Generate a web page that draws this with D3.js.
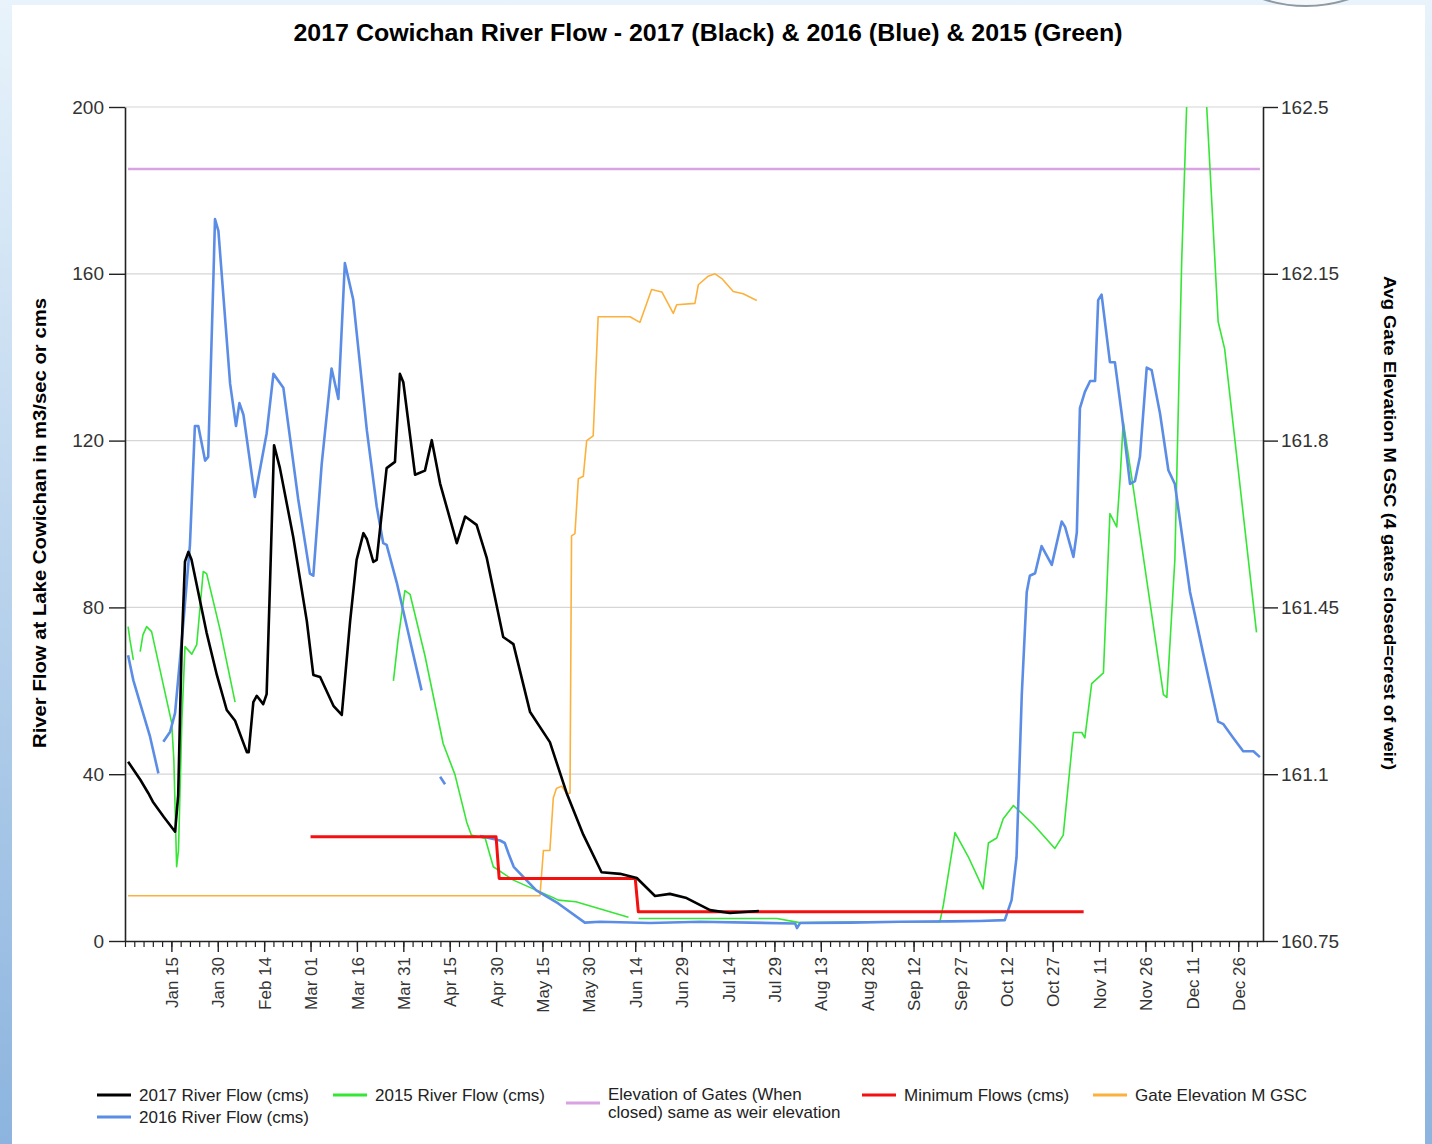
<!DOCTYPE html>
<html>
<head>
<meta charset="utf-8">
<script src="https://cdn.jsdelivr.net/npm/d3@7"></script>
<style>
  body { margin: 0; background: #fff; }
  svg { display: block; font-family: "Liberation Sans", Arial, sans-serif; }
</style>
</head>
<body>
<svg class="chart"></svg>
<script>
// [day of year, value]; null = gap in the record
const flow2017 = [[0,43],[4,38.6],[6.5,35.5],[8,33.4],[11.5,29.8],[15.2,26.2],[16.2,35],[17.3,70],[18.4,91],[19.5,93.3],
  [20.5,91.5],[25.4,73.9],[28.7,63.8],[31.9,55.4],[34.6,52.8],[38.4,45.3],[39,45.3],[40.5,57.3],[41.6,58.8],[43.7,56.8],
  [44.8,59.2],[45.9,85.9],[47.2,118.9],[49.1,113.4],[53.4,96.9],[57.8,76.7],[59.9,63.8],[62.1,63.3],[66.4,56.4],[69.1,54.2],
  [71.8,76.7],[73.9,91.4],[76.1,97.8],[77.2,96.4],[79.3,90.9],[80.4,91.4],[82,102.4],[83.6,113.4],[86.3,114.9],[87.9,136],
  [89,134],[92.8,111.8],[96,112.8],[98.2,120.1],[100.9,109.7],[106.3,95.4],[109,101.8],[112.7,99.8],[116,91.8],[121.3,72.9],
  [124.6,71.2],[130,54.9],[136.4,47.7],[141.8,35.5],[147.2,25.5],[153.1,16.5],[159.1,16.1],[164.5,15.1],[170.4,10.8],
  [175.2,11.3],[180.6,10.3],[188.2,7.4],[194.6,6.7],[204,7.2]];

const flow2016 = [[0,68.5],[1.7,62.5],[3.9,57],[7.1,49],[9.8,40.2],[10.5,null],
  [11.4,47.8],[13.6,50.2],[15.2,54.7],[17.9,76.6],[20,95],[21.6,123.5],[22.7,123.5],[24.9,115.2],[25.9,116.1],[27.6,159.3],
  [28.1,173.1],[29.2,170.3],[33,133.6],[34.9,123.5],[36,129],[37.3,126.2],[41,106.5],[44.8,121.7],[47,136],[50.2,132.7],
  [55,106],[58.8,88.1],[59.9,87.6],[62.6,114.3],[65.8,137.3],[68,130],[70.1,162.6],[72.8,153.8],[77.2,122.5],[80.4,104.2],
  [82.5,95.4],[83.6,95],[86.9,85.9],[91.2,72],[94.9,60.1],[96,null],
  [100.9,39.4],[102.5,37.6],[103,null],
  [113.8,25.2],[120.3,24.1],[121.8,23.5],[123.2,20.6],[124.7,17.8],[131.9,12.2],[139.1,9],[147.7,4.4],[152.6,4.6],[168.8,4.3],
  [184.9,4.6],[201.1,4.4],[215.7,4.2],[216.3,3.1],[217.3,4.3],[233.5,4.4],[249.6,4.6],[265.8,4.7],[275.5,4.8],[283.5,5],
  [285.7,9.8],[287.3,20.1],[289,59.1],[290.6,83.7],[291.6,87.6],[293.3,88.2],[295.4,94.7],[298.7,90.2],[301.9,100.6],
  [303,99.3],[305.7,92.1],[306.8,98],[307.8,127.8],[309.4,131.7],[311.1,134.3],[312.7,134.3],[313.7,153.7],[314.8,155],
  [317.5,138.8],[319.1,138.8],[321.3,126.5],[324,109.6],[325.6,110.3],[327.2,116.1],[329.4,137.5],[331,136.9],[333.7,126.5],
  [336.4,112.9],[338.5,109.6],[343.4,83.7],[347.7,68.8],[352.5,52.6],[354.2,52],[357.4,48.7],[360.6,45.5],[363.9,45.5],[366,44.1]];

const flow2015 = [[0,75.4],[0.6,72.2],[1.7,67.4],[2.5,null],
  [3.9,69.4],[4.8,73.4],[6,75.4],[7.6,74.2],[14.1,52.3],[14.8,43.4],[15.7,17.8],[16.3,21.8],[17.4,53],[18.4,70.6],
  [20.6,68.8],[22.2,71.1],[24.3,88.6],[25.4,88.1],[29.7,74.8],[34.6,57.3],[35,null],
  [85.8,62.4],[87.3,72.2],[89.5,84],[91.2,83.1],[96,68.4],[101.9,47.3],[105.7,39.9],[109.5,28.5],[111,25.4],[115.5,24.6],
  [118.1,17.8],[124.6,14.6],[131,12.5],[137.5,10.4],[139.1,9.8],[144.8,9.4],[152.2,7.8],[161.8,5.7],[163,null],
  [165.1,5.4],[185,5.4],[209.8,5.4],[217.1,4.4],[239.9,4.6],[262.5,4.6],[263.6,8.5],[267.4,26],[271.7,20.2],[276.5,12.5],
  [278.2,23.5],[280.9,24.7],[283,29.3],[286.3,32.5],[292.7,28],[299.7,22.2],[302.4,25.4],[305.7,50],[308.4,50],[309.4,48.7],
  [311.6,61.7],[315.4,64.3],[317.5,102.5],[319.7,99.3],[320.8,111],[321.8,124.6],[325.1,108.4],[334.8,59.1],[335.9,58.4],
  [338.5,91.5],[340.7,162.8],[342.3,200],[344.5,232],[346.5,232],[348.8,200],[352.5,148.5],[354.6,142],[364.9,74]];

const minimumFlows = [[59,25],[119,25],[120,15],[164,15],[165,7],[309,7]];

// right axis (m GSC)
const gateElevation = [[0,160.845],[133.2,160.845],[134.3,160.94],[136.4,160.94],[137.5,161.05],[138.5,161.07],
  [140.2,161.075],[141.8,161.06],[142.9,161.06],[143.4,161.6],[144.5,161.605],[145.6,161.72],[147.2,161.725],[148.3,161.8],
  [150.4,161.81],[152,162.06],[162.3,162.06],[165.5,162.048],[169.3,162.117],[172.6,162.112],[176.3,162.067],[177.4,162.085],
  [183.3,162.088],[184.4,162.127],[187.6,162.145],[189.8,162.15],[192,162.14],[195.7,162.113],[198.9,162.108],[203.3,162.094]];
const gatesClosed = [[0,162.37],[366,162.37]];

const leftTicks = [0, 40, 80, 120, 160, 200];
const rightTicks = [160.75, 161.1, 161.45, 161.8, 162.15, 162.5];
const tickLabels = ["Jan 15","Jan 30","Feb 14","Mar 01","Mar 16","Mar 31","Apr 15","Apr 30","May 15","May 30",
  "Jun 14","Jun 29","Jul 14","Jul 29","Aug 13","Aug 28","Sep 12","Sep 27","Oct 12","Oct 27","Nov 11","Nov 26","Dec 11","Dec 26"];

const initChart = () => {
  const W = 1432, H = 1144;
  const plot = {left: 125, right: 1263, top: 107, bottom: 941};

  var svg = d3.select('.chart').attr('width', W).attr('height', H);

  // page frame
  var defs = svg.append('defs');
  var grad = defs.append('linearGradient').attr('id', 'bg').attr('x1', 0).attr('y1', 0).attr('x2', 0).attr('y2', 1);
  grad.append('stop').attr('offset', '0%').attr('stop-color', '#e8f3fb');
  grad.append('stop').attr('offset', '100%').attr('stop-color', '#8cb4de');
  defs.append('clipPath').attr('id', 'plotclip').append('rect')
    .attr('x', plot.left).attr('y', plot.top)
    .attr('width', plot.right - plot.left).attr('height', plot.bottom - plot.top);
  svg.append('rect').attr('width', W).attr('height', H).attr('fill', 'url(#bg)');
  svg.append('rect').attr('x', 12).attr('y', 5).attr('width', 1413).attr('height', H - 5).attr('fill', '#fff');
  svg.append('circle').attr('cx', 1306).attr('cy', -130).attr('r', 136)
    .attr('fill', '#f4f8fb').attr('stroke', '#8d9aa6').attr('stroke-width', 2);

  const yearStart = new Date(2017, 0, 1);
  const toDate = (day) => new Date(yearStart.getTime() + day * 864e5);
  const parseTick = d3.timeParse('%b %d %Y');

  var x = d3.scaleTime().domain([toDate(-1), toDate(367)]).range([plot.left, plot.right]);
  var yLeft = d3.scaleLinear().domain([0, 200]).range([plot.bottom, plot.top]);
  var yRight = d3.scaleLinear().domain([160.75, 162.5]).range([plot.bottom, plot.top]);

  // gridlines
  svg.append('g').selectAll('line').data(leftTicks.filter((t) => t > 0)).enter()
    .append('line')
    .attr('x1', plot.left).attr('x2', plot.right)
    .attr('y1', (t) => yLeft(t)).attr('y2', (t) => yLeft(t))
    .attr('stroke', '#d6d6d6').attr('stroke-width', 1.2);

  const lineLeft = d3.line().defined((d) => d[1] !== null)
    .x((d) => x(toDate(d[0]))).y((d) => yLeft(d[1]));
  const lineRight = d3.line().defined((d) => d[1] !== null)
    .x((d) => x(toDate(d[0]))).y((d) => yRight(d[1]));

  var marks = svg.append('g').attr('clip-path', 'url(#plotclip)');
  const drawSeries = (data, gen, color, width) => {
    marks.append('path').datum(data)
      .attr('d', gen)
      .attr('fill', 'none')
      .attr('stroke', color)
      .attr('stroke-width', width)
      .attr('stroke-linejoin', 'round');
  };
  drawSeries(gatesClosed, lineRight, '#d9a2e3', 2.5);
  drawSeries(gateElevation, lineRight, '#fcb13c', 1.6);
  drawSeries(flow2015, lineLeft, '#35e635', 1.6);
  drawSeries(flow2016, lineLeft, '#5b8de6', 2.6);
  drawSeries(minimumFlows, lineLeft, '#f51010', 3);
  drawSeries(flow2017, lineLeft, '#000', 2.6);

  // axes
  const styleAxis = (g, size) => {
    g.select('.domain').attr('stroke', '#222').attr('stroke-width', 1.6);
    g.selectAll('.tick line').attr('stroke', '#222').attr('stroke-width', 1.4);
    g.selectAll('.tick text').attr('fill', '#333').style('font-size', size + 'px')
      .style('font-family', '"Liberation Sans", Arial, sans-serif');
  };

  var gl = svg.append('g').attr('transform', 'translate(' + plot.left + ',0)')
    .call(d3.axisLeft(yLeft).tickValues(leftTicks).tickSize(16).tickPadding(5).tickSizeOuter(0));
  styleAxis(gl, 19);

  var gr = svg.append('g').attr('transform', 'translate(' + plot.right + ',0)')
    .call(d3.axisRight(yRight).tickValues(rightTicks).tickFormat((d) => String(d))
      .tickSize(15).tickPadding(3).tickSizeOuter(0));
  styleAxis(gr, 19);

  var minor = d3.timeDay.range(toDate(-1), toDate(367)).filter((d, i) => i % 3 === 0);
  var gMinor = svg.append('g').attr('transform', 'translate(0,' + plot.bottom + ')')
    .call(d3.axisBottom(x).tickValues(minor).tickFormat('').tickSize(6).tickSizeOuter(0));
  styleAxis(gMinor, 16);
  gMinor.selectAll('.tick line').attr('stroke-width', 1.2);

  var majorDates = tickLabels.map((l) => parseTick(l + ' 2017'));
  var gx = svg.append('g').attr('transform', 'translate(0,' + plot.bottom + ')')
    .call(d3.axisBottom(x).tickValues(majorDates).tickFormat(d3.timeFormat('%b %d')).tickSize(11).tickSizeOuter(0));
  styleAxis(gx, 17);
  gx.select('.domain').remove();
  gx.selectAll('.tick text')
    .attr('transform', 'rotate(-90)')
    .attr('text-anchor', 'end')
    .attr('x', -16).attr('y', 0).attr('dy', '0.36em');

  // titles
  svg.append('text')
    .attr('x', 708).attr('y', 41)
    .attr('text-anchor', 'middle')
    .attr('textLength', 829).attr('lengthAdjust', 'spacingAndGlyphs')
    .style('font-size', '23px').style('font-weight', 'bold')
    .text('2017 Cowichan River Flow - 2017 (Black) & 2016 (Blue) & 2015 (Green)');

  svg.append('text')
    .attr('transform', 'translate(46,523) rotate(-90)')
    .attr('text-anchor', 'middle')
    .attr('textLength', 450).attr('lengthAdjust', 'spacingAndGlyphs')
    .style('font-size', '18px').style('font-weight', 'bold')
    .text('River Flow at Lake Cowichan in m3/sec or cms');

  svg.append('text')
    .attr('transform', 'translate(1384,523) rotate(90)')
    .attr('text-anchor', 'middle')
    .attr('textLength', 494).attr('lengthAdjust', 'spacingAndGlyphs')
    .style('font-size', '17px').style('font-weight', 'bold')
    .text('Avg Gate Elevation M GSC (4 gates closed=crest of weir)');

  // legend
  var legendItems = [
    {x: 97, y: 1095, color: '#000', lines: ['2017 River Flow (cms)']},
    {x: 97, y: 1117, color: '#5b8de6', lines: ['2016 River Flow (cms)']},
    {x: 333, y: 1095, color: '#35e635', lines: ['2015 River Flow (cms)']},
    {x: 566, y: 1103, color: '#d9a2e3', lines: ['Elevation of Gates (When', 'closed) same as weir elevation']},
    {x: 862, y: 1095, color: '#f51010', lines: ['Minimum Flows (cms)']},
    {x: 1093, y: 1095, color: '#fcb13c', lines: ['Gate Elevation M GSC']}
  ];
  var lg = svg.append('g').selectAll('g').data(legendItems).enter().append('g');
  lg.append('line')
    .attr('x1', (d) => d.x).attr('x2', (d) => d.x + 34)
    .attr('y1', (d) => d.y).attr('y2', (d) => d.y)
    .attr('stroke', (d) => d.color).attr('stroke-width', 3);
  lg.append('text')
    .attr('x', (d) => d.x + 42)
    .attr('y', (d) => d.y + 6 - (d.lines.length - 1) * 9)
    .style('font-size', '17px').attr('fill', '#222')
    .selectAll('tspan').data((d) => d.lines.map((t, i) => ({t: t, i: i, x: d.x + 42}))).enter()
    .append('tspan')
    .attr('x', (t) => t.x).attr('dy', (t) => t.i ? 18 : 0)
    .text((t) => t.t);
};

document.addEventListener('DOMContentLoaded', initChart, false);
</script>
</body>
</html>
